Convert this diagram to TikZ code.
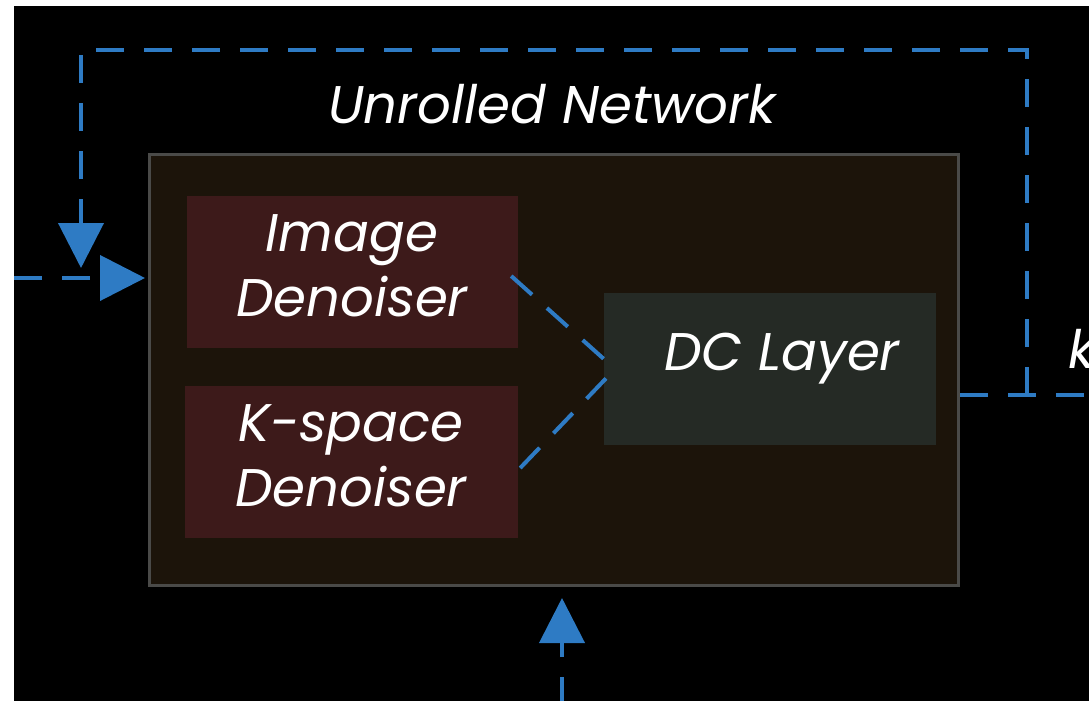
\documentclass[tikz,border=0pt]{standalone}
\usepackage{fontspec}
\setmainfont{Poppins}
\usetikzlibrary{arrows.meta}
\definecolor{flow}{HTML}{2E7BC4}
\definecolor{framefill}{HTML}{1C140A}
\definecolor{framegray}{HTML}{4A4A48}
\definecolor{denfill}{HTML}{3D1A1A}
\definecolor{dcfill}{HTML}{252A25}
\tikzset{
  flowline/.style={draw=flow, line width=4pt, dash pattern=on 28pt off 20pt},
  tip/.style={-{Triangle[length=45pt,width=45pt]}},
  boxtext/.style={text=white, font=\fontsize{53}{65}\selectfont\itshape, align=center, inner sep=0pt},
  innerbox/.style={minimum height=152pt, inner sep=0pt}
}
\begin{document}
\begin{tikzpicture}[x=1pt,y=-1pt]
\useasboundingbox (0,0) rectangle (1089,701);
\fill[white] (0,0) rectangle (1089,701);
\fill[black] (14,6) rectangle (1089,701);
\clip (14,6) rectangle (1089,701);

\node[draw=framegray, line width=3pt, fill=framefill, minimum width=809pt, minimum height=431pt, inner sep=0pt] (frame) at (554,370) {};
\node[innerbox, fill=denfill, minimum width=331pt] (img) at (352.5,272) {};
\node[innerbox, fill=denfill, minimum width=333pt] (ksp) at (351.5,462) {};
\node[innerbox, fill=dcfill, minimum width=332pt] (dc) at (770,369) {};
\node[boxtext] (imgtext) at (352,266) {Image\\Denoiser};
\node[boxtext] (ksptext) at (351,456) {K-space\\Denoiser};
\node[boxtext] (dctext) at (782,359) {DC Layer};

\node[boxtext, anchor=base] (title) at (552,123) {Unrolled Network};
\node[boxtext, anchor=base west] (klabel) at (1068,368) {k};

\coordinate (join) at (615,369);
\draw[flowline] ([xshift=-7pt,yshift=-4pt]img.east) -- (join);
\draw[flowline] ([xshift=2pt,yshift=-6pt]ksp.east) -- (join);

\coordinate (outstart) at (960,395);
\coordinate (outend) at (1095,395);
\coordinate (loopstart) at (1027,395);
\coordinate (loopa) at (1027,50);
\coordinate (loopb) at (81,50);
\coordinate (looptip) at (81,268);
\draw[flowline] (outstart) -- (outend);
\draw[flowline, tip] (loopstart) -- (loopa) -- (loopb) -- (looptip);

\coordinate (instart) at (14,278);
\coordinate (intip) at (145,278);
\draw[flowline, tip] (instart) -- (intip);

\coordinate (botstart) at (562,705);
\coordinate (bottip) at (562,598);
\draw[flowline, tip] (botstart) -- (bottip);
\end{tikzpicture}
\end{document}
